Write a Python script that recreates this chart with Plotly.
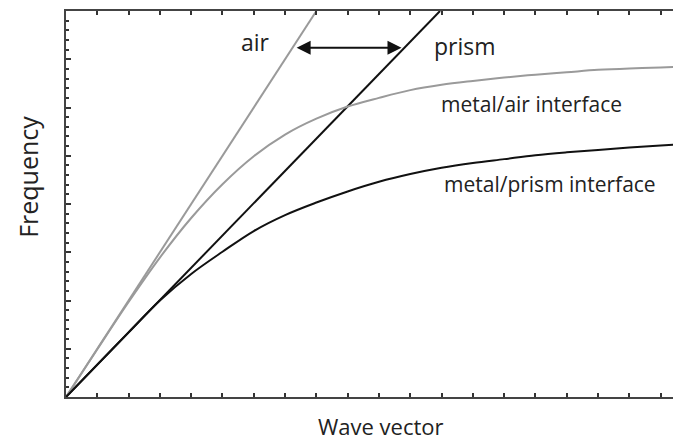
import plotly.graph_objects as go

# ---- data (wave vector in tick units, frequency in major-tick units) ----
k_vals = [0, 1, 2, 3, 4, 5, 6, 7, 8, 9, 10, 11, 12, 13, 14, 15, 16, 17, 18, 19, 20]
metal_air = [0, 0.99, 1.97, 2.89, 3.71, 4.41, 4.99, 5.44, 5.77, 6.02, 6.20,
             6.36, 6.47, 6.55, 6.62, 6.68, 6.73, 6.78, 6.81, 6.83, 6.85]
metal_prism = [0, 0.67, 1.34, 2.00, 2.55, 3.01, 3.44, 3.77, 4.03, 4.26, 4.46,
               4.62, 4.75, 4.85, 4.93, 5.01, 5.07, 5.12, 5.17, 5.21, 5.25]
air_line_k = [0, 8.0]
air_line_w = [0, 8.0]
prism_line_k = [0, 11.95]
prism_line_w = [0, 8.0]

arrow_k = [7.32, 10.72]
arrow_w = [7.24, 7.24]

labels = ["air", "prism", "metal/air interface", "metal/prism interface"]
label_k = [6.04, 12.76, 14.86, 15.46]
label_w = [7.36, 7.28, 6.07, 4.41]
label_size = [23, 23, 21, 21]

x_title = "Wave vector"
y_title = "Frequency"

GRAY = "#9a9a9a"
BLACK = "#111111"
FONT = "Open Sans"
TEXT = "#222222"

fig = go.Figure()
fig.add_trace(go.Scatter(x=air_line_k, y=air_line_w, mode="lines",
                         line=dict(color=GRAY, width=2), hoverinfo="skip"))
fig.add_trace(go.Scatter(x=prism_line_k, y=prism_line_w, mode="lines",
                         line=dict(color=BLACK, width=2), hoverinfo="skip"))
fig.add_trace(go.Scatter(x=k_vals, y=metal_air, mode="lines",
                         line=dict(color=GRAY, width=2, shape="spline", smoothing=1),
                         hoverinfo="skip"))
fig.add_trace(go.Scatter(x=k_vals, y=metal_prism, mode="lines",
                         line=dict(color=BLACK, width=2, shape="spline", smoothing=1),
                         hoverinfo="skip"))

for t, xk, yw, fs in zip(labels, label_k, label_w, label_size):
    fig.add_annotation(x=xk, y=yw, text=t, showarrow=False, xanchor="center", yanchor="middle",
                       font=dict(family=FONT, size=fs, color=TEXT))

fig.add_annotation(x=arrow_k[1], y=arrow_w[1], ax=arrow_k[0], ay=arrow_w[0],
                   xref="x", yref="y", axref="x", ayref="y", text="",
                   showarrow=True, arrowhead=2, startarrowhead=2, arrowside="end+start",
                   arrowsize=1.4, startarrowsize=1.4, arrowwidth=2, arrowcolor=BLACK)

fig.add_annotation(x=-0.062, y=0.57, xref="paper", yref="paper", text=y_title,
                   showarrow=False, textangle=-90, xanchor="center", yanchor="middle",
                   font=dict(family=FONT, size=25, color=TEXT))
fig.add_annotation(x=0.512, y=-0.075, xref="paper", yref="paper", text=x_title,
                   showarrow=False, xanchor="center", yanchor="middle",
                   font=dict(family=FONT, size=22, color=TEXT))

# page body has an 8px default margin, so the figure is sized to end at the window edge
fig.update_layout(
    width=673, height=433,
    margin=dict(l=58, r=0, t=3, b=44),
    paper_bgcolor="white", plot_bgcolor="white",
    showlegend=False,
    xaxis=dict(range=[0, 19.65], showgrid=False, zeroline=False, showticklabels=False,
               showline=True, linecolor="#444444", linewidth=2, mirror="ticks",
               ticks="inside", ticklen=4, tickwidth=2, tickcolor="#333333",
               tick0=0, dtick=1),
    yaxis=dict(range=[0, 8], showgrid=False, zeroline=False, showticklabels=False,
               showline=True, linecolor="#444444", linewidth=2,
               ticks="inside", ticklen=5, tickwidth=2, tickcolor="#333333",
               tick0=0, dtick=1,
               minor=dict(dtick=0.2, ticks="inside", ticklen=3, tickwidth=2,
                          tickcolor="#333333", showgrid=False)),
)

fig.write_html("out.html")
